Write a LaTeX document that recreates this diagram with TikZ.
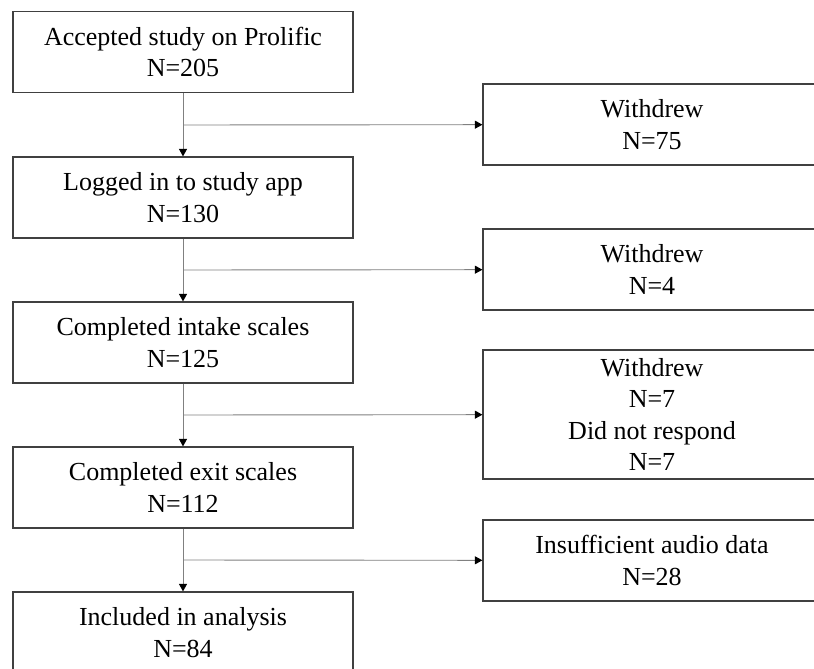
\documentclass[tikz,border=0pt]{standalone}
\usepackage{fontspec}
\setmainfont{Liberation Serif}
\usetikzlibrary{arrows.meta,positioning}

\tikzset{
  stagebox/.style={draw=black!75, line width=1.2pt, minimum width=340pt, minimum height=81pt,
    inner sep=0pt, align=center, font=\fontsize{26}{31.5}\selectfont},
  dropbox/.style={stagebox, minimum width=338pt},
  flow/.style={draw=black!50, line width=0.9pt, -{Triangle[length=7.5pt,width=8pt,black]}}
}

\begin{document}
\begin{tikzpicture}[x=1pt, y=-1pt]
        \clip (0, 0) rectangle (814, 669);
        % main column
        \node[stagebox] (accepted) at (183, 52) {Accepted study on Prolific\\N=205};
        \node[stagebox] (logged) at (183, 197.5) {Logged in to study app\\N=130};
        \node[stagebox] (intake) at (183, 342.5) {Completed intake scales\\N=125};
        \node[stagebox] (exit) at (183, 487.5) {Completed exit scales\\N=112};
        \node[stagebox] (included) at (183, 632.5) {Included in analysis\\N=84};
        % exclusions
        \node[dropbox] (dropA) at (652, 124.5) {Withdrew\\N=75};
        \node[dropbox] (dropB) at (652, 269.5) {Withdrew\\N=4};
        \node[dropbox, minimum height=129pt] (dropC) at (652, 414.5) {Withdrew\\N=7\\Did not respond\\N=7};
        \node[dropbox] (dropD) at (652, 560.5) {Insufficient audio data\\N=28};
        % branch points
        \coordinate (splitA) at (183, 125);
        \coordinate (splitB) at (183, 270);
        \coordinate (splitC) at (183, 415);
        \coordinate (splitD) at (183, 560);
        % connectors
        \draw[flow] (accepted) -- (logged);
        \draw[flow] (logged) -- (intake);
        \draw[flow] (intake) -- (exit);
        \draw[flow] (exit) -- (included);
        \draw[flow] (splitA) -- (dropA);
        \draw[flow] (splitB) -- (dropB);
        \draw[flow] (splitC) -- (dropC);
        \draw[flow] (splitD) -- (dropD);
\end{tikzpicture}
\end{document}
